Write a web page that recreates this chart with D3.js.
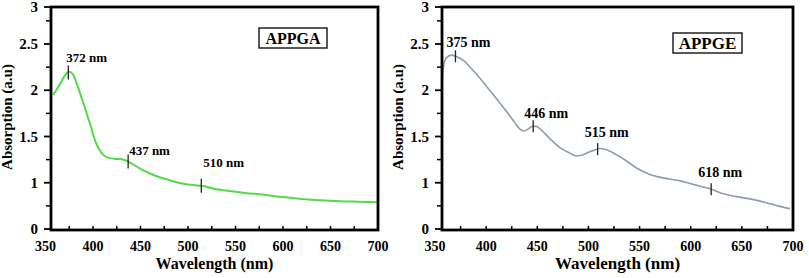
<!doctype html>
<html>
<head>
<script src="https://d3js.org/d3.v7.min.js"></script>
<style>
  body { margin: 0; background: #fff; }
</style>
</head>
<body>
<svg width="809" height="278" font-family="Liberation Serif, DejaVu Serif, serif" font-weight="bold"></svg>
<script>
// APPGA spectrum (left)
var wavelengthA = [358, 362, 367, 371, 375, 379, 383, 388, 393, 398, 402, 406, 410, 415, 422, 430, 436, 442,
                   450, 460, 470, 480, 490, 500, 510, 516, 525, 540, 560, 580, 600, 620, 640, 660, 680, 700];
var absorbA     = [1.95, 2.01, 2.10, 2.17, 2.20, 2.17, 2.07, 1.92, 1.76, 1.60, 1.46, 1.37, 1.31, 1.275, 1.26, 1.255, 1.235, 1.20,
                   1.15, 1.10, 1.06, 1.03, 1.00, 0.98, 0.97, 0.965, 0.94, 0.915, 0.89, 0.87, 0.845, 0.825, 0.81, 0.80, 0.795, 0.79];

// APPGE spectrum (right)
var wavelengthE = [357, 358.5, 361, 366, 372, 378, 386, 394, 402, 410, 420, 428, 433, 437, 441, 445, 449, 454,
                   462, 472, 482, 488, 494, 500, 505, 511, 517, 523, 534, 547, 560, 574, 590, 600, 610, 620,
                   632, 645, 660, 672, 685, 697];
var absorbE     = [2.09, 2.27, 2.35, 2.38, 2.36, 2.32, 2.23, 2.13, 2.02, 1.91, 1.77, 1.65, 1.58, 1.56, 1.58, 1.61, 1.61, 1.57,
                   1.48, 1.38, 1.32, 1.29, 1.30, 1.33, 1.35, 1.37, 1.36, 1.33, 1.26, 1.16, 1.09, 1.05, 1.02, 0.99, 0.96, 0.93,
                   0.88, 0.85, 0.82, 0.79, 0.75, 0.72];

// peak markers
var peaksA = [374, 437, 514];
var peakLabelsA = ["372 nm", "437 nm", "510 nm"];
var peaksE = [370, 446, 509, 620];
var peakLabelsE = ["375 nm", "446 nm", "515 nm", "618 nm"];

// axes
var xTicks = [350, 400, 450, 500, 550, 600, 650, 700];
var xMinorTicks = [375, 425, 475, 525, 575, 625, 675];
var yTicks = [0.5, 1, 1.5, 2, 2.5, 2.9];
var yTickLabels = ["0", "1", "1.5", "2", "2.5", "3"];
var yMinorTicks = [0.75, 1.25, 1.75, 2.25, 2.75];

var svg = d3.select("svg");

function drawPanel(p) {
  var x = d3.scaleLinear().domain([350, 700]).range(p.xRange);
  var y = d3.scaleLinear().domain([0.5, 2.9]).range([229, 7]);
  var g = svg.append("g");
  var left = p.frameLeft, right = p.xRange[1], top = 7, bottom = 230;

  // tick marks
  yMinorTicks.forEach(function (v) {
    g.append("line").attr("x1", left - 5).attr("x2", left).attr("y1", y(v)).attr("y2", y(v))
      .attr("stroke", "#000").attr("stroke-width", 1.5);
  });
  yTicks.forEach(function (v, i) {
    g.append("line").attr("x1", left - 7).attr("x2", left).attr("y1", y(v)).attr("y2", y(v))
      .attr("stroke", "#000").attr("stroke-width", 1.8);
    g.append("text").attr("x", left - 13).attr("y", y(v) + 5)
      .attr("text-anchor", "end").style("font-size", "15px").text(yTickLabels[i]);
  });
  xTicks.concat(xMinorTicks).forEach(function (v) {
    if (x(v) < left) return;
    g.append("line").attr("x1", x(v)).attr("x2", x(v)).attr("y1", bottom).attr("y2", bottom - 4)
      .attr("stroke", "#000").attr("stroke-width", 1.5);
  });
  xTicks.forEach(function (v) {
    g.append("text").attr("x", x(v)).attr("y", 251)
      .attr("text-anchor", "middle").style("font-size", "14px").text(v);
  });

  // curve
  var line = d3.line()
    .x(function (d) { return x(d[0]); })
    .y(function (d) { return y(d[1]); })
    .curve(d3.curveMonotoneX);
  g.append("path")
    .datum(d3.zip(p.wl, p.ab))
    .attr("d", line)
    .attr("fill", "none")
    .attr("stroke", p.color)
    .attr("stroke-width", p.lineWidth);

  // markers
  var at = d3.scaleLinear().domain(p.wl).range(p.ab);
  p.peaks.forEach(function (nm, i) {
    var px = x(nm), py = y(at(nm));
    g.append("line").attr("x1", px).attr("x2", px).attr("y1", py - p.markHalf).attr("y2", py + p.markHalf)
      .attr("stroke", "#222").attr("stroke-width", 1.3);
    g.append("text").attr("x", px + p.labelOff[i][0]).attr("y", py + p.labelOff[i][1])
      .style("font-size", p.labelSize).text(p.labels[i]);
  });

  // frame
  g.append("rect").attr("x", left).attr("y", top).attr("width", right - left).attr("height", bottom - top)
    .attr("fill", "none").attr("stroke", "#000").attr("stroke-width", 2.8);

  // sample box
  g.append("rect").attr("x", p.box[0]).attr("y", p.box[1]).attr("width", p.box[2]).attr("height", p.box[3])
    .attr("fill", "#fff").attr("stroke", "#222").attr("stroke-width", 1.5);
  g.append("text").attr("x", p.box[0] + p.box[2] / 2).attr("y", p.box[1] + p.box[3] / 2 + 5.5)
    .attr("text-anchor", "middle").style("font-size", p.boxSize).text(p.name);

  // axis titles
  g.append("text").attr("x", (left + right) / 2).attr("y", 269)
    .attr("text-anchor", "middle").style("font-size", p.titleSize).text("Wavelength (nm)");
  g.append("text").attr("text-anchor", "middle")
    .attr("transform", "translate(" + (left - 39) + "," + 117 + ")rotate(-90)")
    .style("font-size", "15px").text("Absorption (a.u)");
}

drawPanel({
  name: "APPGA", wl: wavelengthA, ab: absorbA, peaks: peaksA, labels: peakLabelsA,
  xRange: [45.5, 378], frameLeft: 51, color: "#55d84a", lineWidth: 2,
  markHalf: 7, labelSize: "13px", labelOff: [[-2, -10], [1, -7], [2, -19]],
  box: [259, 28, 68, 20], boxSize: "16px", titleSize: "16px"
});
drawPanel({
  name: "APPGE", wl: wavelengthE, ab: absorbE, peaks: peaksE, labels: peakLabelsE,
  xRange: [435, 793], frameLeft: 442, color: "#8e9cab", lineWidth: 1.6,
  markHalf: 6, labelSize: "14px", labelOff: [[-9, -9], [-9, -8], [-13, -12], [-13, -12]],
  box: [673, 33, 69, 20], boxSize: "17px", titleSize: "17px"
});
</script>
</body>
</html>
